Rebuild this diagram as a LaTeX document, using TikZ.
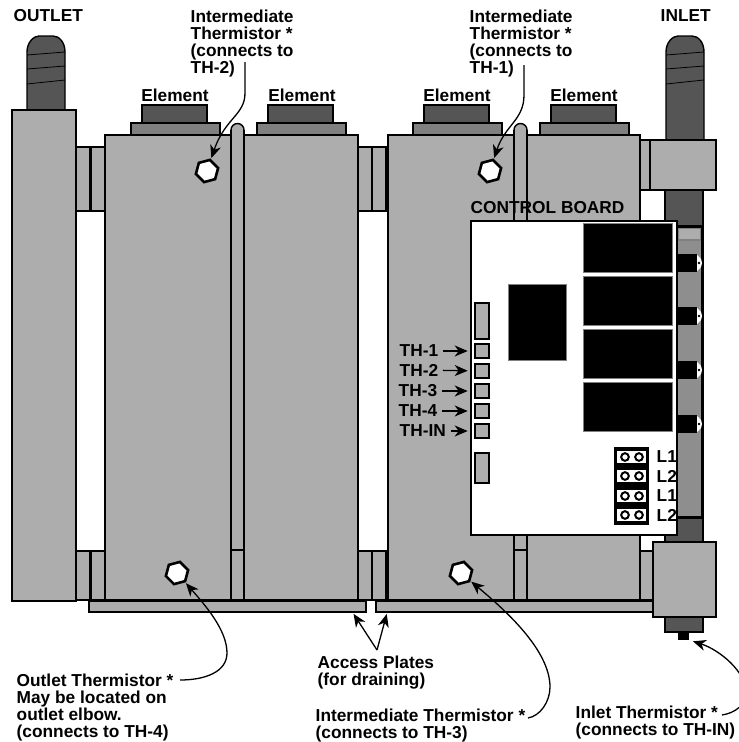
\documentclass[tikz,border=0pt]{standalone}
\usepackage{fontspec}
\setmainfont{Liberation Sans}
\usetikzlibrary{arrows.meta,shapes.geometric}
\definecolor{shell}{HTML}{ADADAD}
\definecolor{flange}{HTML}{808080}
\definecolor{pipe}{HTML}{555555}
\definecolor{strip}{HTML}{8E8E8E}
\tikzset{
	part/.style={draw=black, fill=shell},
	tag/.style={font=\bfseries\fontsize{17.3}{17.2}\selectfont, align=left, inner sep=0pt, anchor=north west},
	leader/.style={line width=1.3pt, -{Stealth[length=13pt,width=11pt,inset=4pt]}, shorten >=1pt},
	hexplug/.style={regular polygon, regular polygon sides=6, shape border rotate=15, draw=black, fill=white, line width=2.6pt, minimum size=23pt, inner sep=0pt},
	socket/.style={draw=black, fill=shell, line width=2.6pt},
	relay/.style={draw=flange, fill=black, line width=0.5pt}
}
\begin{document}
\begin{tikzpicture}[x=1pt, y=-1pt, line width=1.4pt]
	\useasboundingbox (0,0) rectangle (739,742);
	% threaded pipe ends
	\draw [fill=pipe] (665,145) rectangle (703,543);
	\foreach \x/\b in {27/112, 666/145}{
		\fill [pipe] (\x,\b) -- (\x,52) .. controls (\x,42) and (\x+7,36) .. (\x+12,36) -- (\x+26,36) .. controls (\x+32,36) and (\x+38,42) .. (\x+38,52) -- (\x+38,\b) -- cycle;
		\draw (\x,\b) -- (\x,52) .. controls (\x,42) and (\x+7,36) .. (\x+12,36) -- (\x+26,36) .. controls (\x+32,36) and (\x+38,42) .. (\x+38,52) -- (\x+38,\b);
		\draw [line width=0.8pt] (\x,55) -- (\x+38,52);
		\draw [line width=0.8pt] (\x,69) -- (\x+38,66);
		\draw [line width=0.8pt] (\x,84) -- (\x+38,80);
	}
	% element caps
	\foreach \x in {131, 257, 413, 540}{
		\draw [fill=pipe] (\x+11,105) rectangle (\x+76,124);
		\draw [fill=flange] (\x,123) rectangle (\x+89,135);
	}
	% seam tops
	\foreach \x in {231, 514}
		\draw [part] (\x,140) -- (\x,130) arc (180:360:6.5) -- (\x+13,140);
	% outlet elbow and nipples
	\draw [part] (12,110) rectangle (76,601);
	\foreach \x in {76, 91, 358, 372}{
		\draw [part] (\x,147) rectangle (\x+14,211);
		\draw [part] (\x,551) rectangle (\x+14,600);
	}
	\draw [part] (640,551) rectangle (653,600);
	% access plates
	\draw [fill=shell] (89,601) rectangle (366,612);
	\draw [fill=shell] (376,601) rectangle (653,612);
	% tanks
	\draw [part] (105,135) rectangle (358,600);
	\draw [part] (388,135) rectangle (640,600);
	\draw [line width=2.2pt] (105,600) -- (358,600);
	\draw [line width=2.2pt] (388,600) -- (653,600);
	\foreach \x in {231, 514}{
		\draw (\x,130) -- (\x,600);
		\draw (\x+13,130) -- (\x+13,600);
		\draw [line width=1.8pt] (\x,550) -- (\x+13,550);
	}
	\fill [shell] (232,128) rectangle (243,136.5);
	\fill [shell] (515,128) rectangle (526,136.5);
	% inlet fittings
	\draw [part] (640,140) rectangle (650,190);
	\draw [part] (650,140) rectangle (716,190);
	\draw [part] (653,542) rectangle (716,617);
	\draw [fill=pipe] (665,617) rectangle (703,632);
	\fill (678,632) rectangle (689,640);
	% hexagon plugs
	\node [hexplug] (plugb) at (207,171) {};
	\node [hexplug] (pluga) at (490,171) {};
	\node [hexplug] (plugd) at (177,573) {};
	\node [hexplug] (plugc) at (461,573) {};
	% heating strip
	\fill [strip] (677,228) rectangle (701,517);
	\draw [fill=shell, draw=flange] (678,228) rectangle (701,240);
	\draw [line width=3.4pt] (677,226.5) -- (702.5,226.5) -- (702.5,517.5) -- (677,517.5);
	% board
	\draw [fill=white] (471,221) rectangle (677,535);
	\foreach \y in {223, 276, 329, 382}
		\draw [relay] (583,\y) rectangle (672,\y+49);
	\draw [relay] (508,284) rectangle (566,360);
	\foreach \y in {254, 307, 361, 415}{
		\fill (677,\y) rectangle (697,\y+18);
		\fill [white] (697,\y+1) -- (701,\y+5) -- (702,\y+9) -- (701,\y+13) -- (697,\y+17) -- cycle;
		\fill (699,\y+9) circle (1.3);
	}
	% thermistor sockets
	\draw [socket] (475,303) rectangle (489,339);
	\draw [socket] (475,453) rectangle (489,483);
	\foreach \y/\n in {351/a, 371/b, 391/c, 411/d, 431/e}
		\node [socket, minimum width=14pt, minimum height=14pt, inner sep=0pt] (sock\n) at (482,\y) {};
	% jumpers
	\fill (614,447) rectangle (649,525);
	\foreach \y in {457, 476, 496, 515}{
		\fill [white] (617,\y-6) rectangle (646,\y+6);
		\foreach \x in {625, 639}
			\draw [line width=2pt] (\x,\y) circle (3.8);
	}
	% labels
	\node [tag] (outlet) at (13,9) {OUTLET};
	\node [tag] (inlet) at (660,9) {INLET};
	\node [tag] (lblb) at (190,9) {Intermediate\\Thermistor *\\(connects to\\TH-2)};
	\node [tag] (lbla) at (469,9) {Intermediate\\Thermistor *\\(connects to\\TH-1)};
	\foreach \x/\n in {175/a, 302/b, 457/c, 584/d}
		\node [tag, anchor=center] (elem\n) at (\x,95) {Element};
	\node [tag] (board) at (470,201) {CONTROL BOARD};
	\node [tag, anchor=west] (tha) at (399,351) {TH-1};
	\node [tag, anchor=west] (thb) at (399,370) {TH-2};
	\node [tag, anchor=west] (thc) at (398,391) {TH-3};
	\node [tag, anchor=west] (thd) at (398,411) {TH-4};
	\node [tag, anchor=west] (the) at (399,431) {TH-IN};
	\foreach \y/\n/\t in {457/a/L1, 476/b/L2, 496/c/L1, 515/d/L2}
		\node [tag, anchor=west] (jump\n) at (656,\y) {\t};
	\node [tag] (lbloutlet) at (16,673) {Outlet Thermistor *\\May be located on\\outlet elbow.\\(connects to TH-4)};
	\node [tag] (lblplates) at (317,655) {Access Plates\\(for draining)};
	\node [tag] (lblc) at (315,708) {Intermediate Thermistor *\\(connects to TH-3)};
	\node [tag] (lblinlet) at (575,705) {Inlet Thermistor *\\(connects to TH-IN)};
	% connectors
	\coordinate (tailb) at (245,62);
	\coordinate (taila) at (524,65);
	\coordinate (tailo) at (180,680);
	\coordinate (tailc) at (528,718);
	\coordinate (taili) at (722,715);
	\coordinate (fork) at (377,650);
	\coordinate (plateleft) at (353,613);
	\coordinate (plateright) at (387,613);
	\coordinate (inletprobe) at (692,641);
	\draw [leader] (tailb) -- (245,93) .. controls (245,115) and (225,118) .. (plugb);
	\draw [leader] (taila) -- (524,95) .. controls (524,120) and (505,125) .. (pluga);
	\draw [leader] (tailo) .. controls (205,680) and (227,672) .. (227,653) .. controls (227,630) and (205,605) .. (plugd);
	\draw [leader] (tailc) .. controls (540,716) and (550,702) .. (550,687) .. controls (550,650) and (505,610) .. (plugc);
	\draw [leader] (taili) .. controls (735,713) and (746,705) .. (746,692) .. controls (746,672) and (720,650) .. (inletprobe);
	\draw [leader] (fork) -- (plateleft);
	\draw [leader] (fork) -- (plateright);
	\foreach \n in {a, b, c, d, e}
		\draw [leader, shorten >=6pt, shorten <=4pt] (th\n) -- (sock\n);
\end{tikzpicture}
\end{document}
